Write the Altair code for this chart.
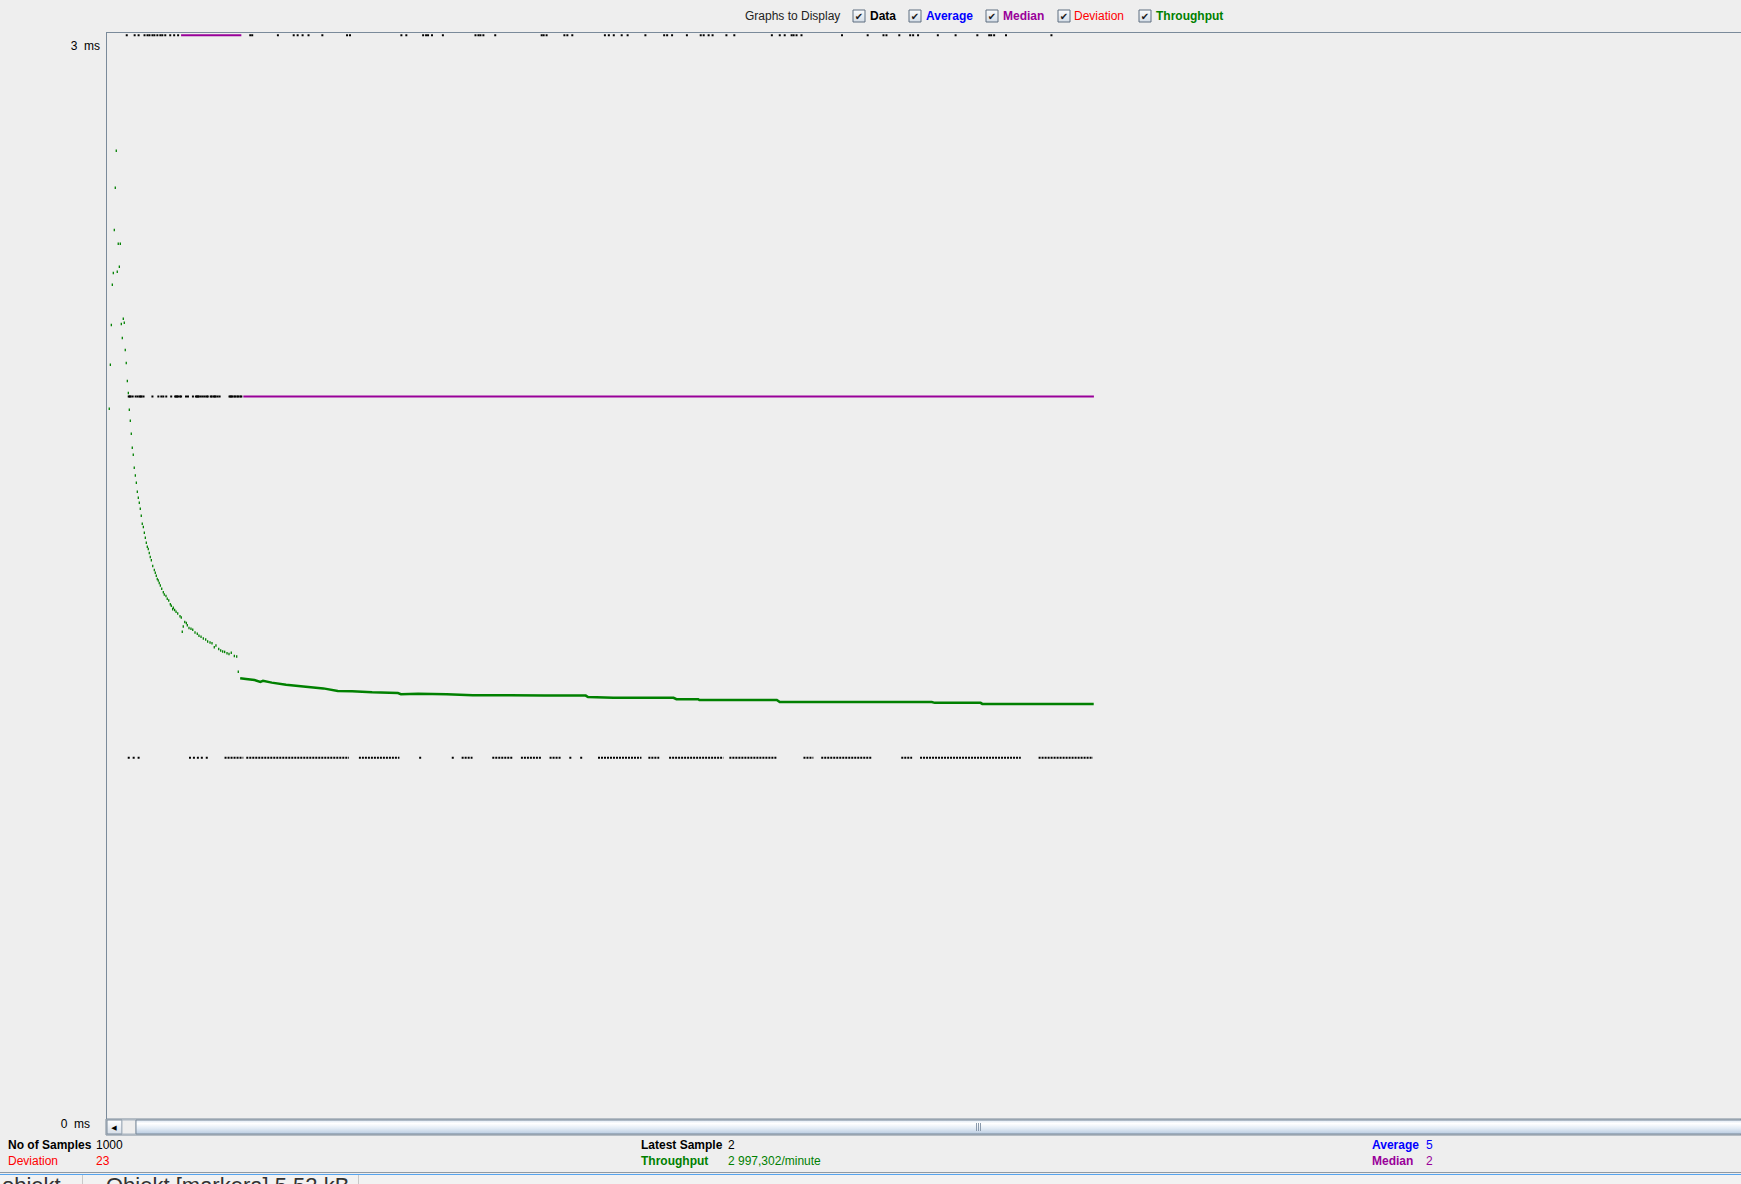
import altair as alt
import pandas as pd

FONT = "Liberation Sans"

# ---------------- data ----------------
# sample number (0..1000) of each black "Data" dot, per level on the ms scale
level3_samples = [21, 29, 33, 39, 42, 44, 47, 49, 52, 55, 57, 60, 65, 69, 73, 146, 148, 174, 190, 194,
                  199, 205, 219, 244, 247, 299, 304, 321, 324, 326, 330, 341, 374, 377, 379, 382, 394,
                  441, 443, 446, 464, 467, 472, 505, 509, 514, 522, 528, 546, 565, 568, 573, 588, 602,
                  605, 610, 614, 628, 636, 674, 682, 687, 694, 696, 699, 704, 745, 771, 787, 790, 803,
                  814, 817, 822, 842, 860, 882, 894, 896, 899, 911, 957]
level2_samples = [23, 24, 25, 27, 30, 32, 34, 35, 36, 38, 47, 53, 56, 58, 61, 66, 70, 71, 72, 73, 75,
                  76, 81, 83, 88, 91, 92, 93, 94, 96, 98, 100, 102, 103, 106, 107, 109, 110, 111, 113,
                  115, 125, 126, 127, 128, 130, 131, 133, 134, 136, 137]
level1_samples = [23, 28, 33, 85, 89, 93, 97, 102, 318, 351, 470, 481]
# dense runs of level-1 dots: first and last sample
level1_run_start = [120, 142, 256, 360, 391, 420, 449, 498, 549, 570, 631, 706, 724, 805, 824, 944]
level1_run_end = [139, 246, 297, 371, 412, 441, 461, 542, 560, 625, 679, 716, 775, 816, 926, 999]

# median line segments
median_start = [76, 139]
median_end = [137, 1000]
median_value = [3, 2]

# throughput (green) - scattered early dots
tp_dot_sample = [3.3, 4.4, 5.4, 6.4, 7.4, 8.4, 9.4, 10.4, 11.4, 12.4, 13.5, 14.5, 15.5, 16.5, 17.5, 18.5,
                 19.5, 20.5, 21.6, 22.6, 23.6, 24.6, 25.6, 26.6, 27.6, 28.6, 29.7, 30.7, 31.7, 32.7, 33.7,
                 34.7, 35.7, 36.7, 37.8, 38.8, 39.8, 40.8, 41.8, 42.8, 43.8, 44.8, 45.9, 47.3, 48.9, 49.9,
                 50.9, 51.9, 52.9, 53.9, 55.0, 56.4, 58.0, 59.0, 60.7, 62.0, 63.5, 65.1, 66.1, 67.5, 68.1,
                 69.5, 70.9, 72.6, 74.9, 76.2, 77.2, 78.2, 79.7, 81.3, 82.3, 84.0, 86.0, 87.8, 90.1, 92.4,
                 94.1, 96.2, 98.5, 100.9, 102.9, 105.3, 107.3, 109.6, 111.3, 114.1, 116.1, 118.1, 120.1,
                 122.5, 124.5, 126.8, 129.9, 132.3, 133.9]
tp_dot_value = [1.966, 2.088, 2.198, 2.309, 2.342, 2.461, 2.578, 2.680, 2.345, 2.423, 2.359, 2.423, 2.201,
                2.162, 2.215, 2.204, 2.129, 2.093, 2.043, 2.010, 1.963, 1.933, 1.897, 1.858, 1.839, 1.803,
                1.781, 1.761, 1.736, 1.720, 1.706, 1.689, 1.670, 1.648, 1.639, 1.623, 1.609, 1.595, 1.584,
                1.578, 1.567, 1.556, 1.547, 1.531, 1.520, 1.512, 1.504, 1.495, 1.491, 1.484, 1.477, 1.468,
                1.458, 1.452, 1.448, 1.440, 1.435, 1.425, 1.421, 1.411, 1.415, 1.409, 1.404, 1.399, 1.392,
                1.388, 1.349, 1.363, 1.376, 1.373, 1.367, 1.359, 1.357, 1.354, 1.347, 1.343, 1.338, 1.335,
                1.330, 1.327, 1.322, 1.319, 1.317, 1.306, 1.311, 1.301, 1.297, 1.294, 1.293, 1.289, 1.287,
                1.291, 1.282, 1.280, 1.238]
# throughput - dense flat part
tp_line_sample = [135.8, 141.7, 150.3, 156.2, 158.9, 167.8, 182.3, 199.7, 220.0, 234.6, 249.1, 269.4,
                  295.5, 298.5, 315.9, 344.9, 371.2, 408.9, 443.7, 485.6, 487.9, 513.5, 574.5, 577.4,
                  599.5, 600.6, 679.0, 682.0, 835.9, 838.9, 885.3, 887.0, 999.8]
tp_line_value = [1.220, 1.218, 1.215, 1.210, 1.213, 1.208, 1.202, 1.197, 1.192, 1.185, 1.184, 1.181,
                 1.179, 1.176, 1.177, 1.176, 1.173, 1.173, 1.172, 1.172, 1.168, 1.166, 1.166, 1.162,
                 1.162, 1.160, 1.160, 1.154, 1.154, 1.152, 1.152, 1.149, 1.149]

y_tick_values = [3, 0]
y_tick_labels = ["3\u00a0\u00a0ms", "0\u00a0\u00a0ms"]

legend_items = ["Data", "Average", "Median", "Deviation", "Throughput"]

# ---------------- styling / layout ----------------
BG = "#eeeeee"
BORDER = "#7a8a9a"
C_DATA = "#000000"
C_AVG = "#0000ff"
C_MED = "#990099"
C_DEV = "#ff0000"
C_TP = "#008000"

W, H = 1635, 1087
L, T = 106, 32

xs = alt.Scale(domain=[0, 1655], nice=False, zero=False)
ys = alt.Scale(domain=[0, 3.009], nice=False, zero=True)


def px(x):
    return x - L


def py(y):
    return y - T


def one():
    return pd.DataFrame({"d": [0]})


def txt(s, x, y, color="#000000", weight="normal", size=12, align="left", font=FONT, baseline="middle"):
    return alt.Chart(pd.DataFrame({"t": [s]})).mark_text(
        align=align, baseline=baseline, font=font, fontSize=size, fontWeight=weight, color=color
    ).encode(text="t:N", x=alt.value(px(x)), y=alt.value(py(y)))


def box(x1, y1, x2, y2, fill, stroke=None):
    kw = {}
    if stroke:
        kw["stroke"] = stroke
        kw["strokeWidth"] = 1
    return alt.Chart(one()).mark_rect(fill=fill, **kw).encode(
        x=alt.value(px(x1)), x2=alt.value(px(x2)), y=alt.value(py(y1)), y2=alt.value(py(y2))
    )


def grad(stops):
    return {"gradient": "linear", "x1": 0, "y1": 0, "x2": 0, "y2": 1,
            "stops": [{"offset": o, "color": c} for o, c in stops]}


layers = []

# plot border (top and left)
layers.append(box(106, 32, 1741, 33, BORDER))
layers.append(box(106, 32, 107, 1120, BORDER))

# ---------------- data marks ----------------
dots = pd.DataFrame({
    "sample": level3_samples + level2_samples + level1_samples,
    "value": [3] * len(level3_samples) + [2] * len(level2_samples) + [1] * len(level1_samples),
})
runs = pd.DataFrame({"start": level1_run_start, "end": level1_run_end, "value": [1] * len(level1_run_start)})
median = pd.DataFrame({"start": median_start, "end": median_end, "value": median_value})
tp_dots = pd.DataFrame({"sample": tp_dot_sample, "value": tp_dot_value})
tp_line = pd.DataFrame({"sample": tp_line_sample, "value": tp_line_value})

layers.append(alt.Chart(dots).mark_square(size=4, color=C_DATA, opacity=1).encode(
    x=alt.X("sample:Q", scale=xs, axis=None), y=alt.Y("value:Q", scale=ys, axis=None)))
layers.append(alt.Chart(runs).mark_rule(color=C_DATA, strokeWidth=2, strokeDash=[2, 1]).encode(
    x=alt.X("start:Q", scale=xs, axis=None), x2="end:Q", y=alt.Y("value:Q", scale=ys, axis=None)))
layers.append(alt.Chart(median).mark_rule(color=C_MED, strokeWidth=2).encode(
    x=alt.X("start:Q", scale=xs, axis=None), x2="end:Q", y=alt.Y("value:Q", scale=ys, axis=None)))
layers.append(alt.Chart(tp_dots).mark_tick(orient="vertical", size=2.5, thickness=1.3, color=C_TP, opacity=1).encode(
    x=alt.X("sample:Q", scale=xs, axis=None), y=alt.Y("value:Q", scale=ys, axis=None)))
layers.append(alt.Chart(tp_line).mark_line(color=C_TP, strokeWidth=2.5).encode(
    x=alt.X("sample:Q", scale=xs, axis=None), y=alt.Y("value:Q", scale=ys, axis=None)))

# y labels
lab3 = pd.DataFrame({"v": [y_tick_values[0]], "t": [y_tick_labels[0]]})
lab0 = pd.DataFrame({"v": [y_tick_values[1]], "t": [y_tick_labels[1]]})
layers.append(alt.Chart(lab3).mark_text(align="right", baseline="middle", font=FONT, fontSize=12, dy=10.5,
                                        color="#000000").encode(
    y=alt.Y("v:Q", scale=ys, axis=None), x=alt.value(-6), text="t:N"))
layers.append(alt.Chart(lab0).mark_text(align="right", baseline="middle", font=FONT, fontSize=12, dy=5,
                                        color="#000000").encode(
    y=alt.Y("v:Q", scale=ys, axis=None), x=alt.value(-16), text="t:N"))

# ---------------- header: Graphs to Display ----------------
HY = 16
layers.append(txt("Graphs to Display", 745, HY, color="#222222"))
cb_x = [853, 909, 986, 1058, 1139]
lab_x = [870, 926, 1003, 1074, 1156]
lab_c = [C_DATA, C_AVG, C_MED, C_DEV, C_TP]
lab_w = ["bold", "bold", "bold", "normal", "bold"]
cb_fill = grad([(0, "#fbfcfd"), (1, "#d3dce6")])
for i, name in enumerate(legend_items):
    layers.append(box(cb_x[i], 10, cb_x[i] + 12, 22, cb_fill, stroke="#5f6f80"))
    layers.append(txt("\u2714", cb_x[i] + 6, 16.5, color="#1a1a1a", size=10, align="center", font="DejaVu Sans"))
    layers.append(txt(name, lab_x[i], HY, color=lab_c[i], weight=lab_w[i]))

# ---------------- scrollbar ----------------
layers.append(box(106, 1119, 1741, 1135, BG, stroke=BORDER))
layers.append(box(107, 1120, 122, 1134, grad([(0, "#ffffff"), (1, "#d6dee8")]), stroke=BORDER))
layers.append(txt("\u25c0", 114, 1127.5, color="#000000", size=7, align="center", font="DejaVu Sans"))
layers.append(box(122, 1120, 136, 1134, BG, stroke="#a8b4c0"))
layers.append(box(136, 1120, 1745, 1134,
                  grad([(0, "#dde7f2"), (0.25, "#ffffff"), (0.6, "#e2ebf5"), (1, "#b8cbe0")]), stroke=BORDER))
for gx in [976, 978, 980]:
    layers.append(box(gx, 1123, gx + 1, 1131, "#8a9aac"))

# ---------------- footer stats ----------------
R1, R2 = 1144.5, 1161
layers.append(txt("No of Samples", 8, R1, weight="bold"))
layers.append(txt("1000", 96, R1))
layers.append(txt("Deviation", 8, R2, color=C_DEV))
layers.append(txt("23", 96, R2, color=C_DEV))
layers.append(txt("Latest Sample", 641, R1, weight="bold"))
layers.append(txt("2", 728, R1))
layers.append(txt("Throughput", 641, R2, color=C_TP, weight="bold"))
layers.append(txt("2 997,302/minute", 728, R2, color=C_TP))
layers.append(txt("Average", 1372, R1, color=C_AVG, weight="bold"))
layers.append(txt("5", 1426, R1, color=C_AVG))
layers.append(txt("Median", 1372, R2, color=C_MED, weight="bold"))
layers.append(txt("2", 1426, R2, color=C_MED))

# bottom separators and cut-off status strip (as in the screenshot)
layers.append(box(0, 1172, 1741, 1173, "#8f99a3"))
layers.append(box(0, 1174, 1741, 1175, "#56a4ee"))
layers.append(box(0, 1175, 1741, 1190, "#f2f2f2"))
layers.append(box(82, 1175, 83, 1190, "#c8c8c8"))
layers.append(box(358, 1175, 359, 1190, "#c8c8c8"))
layers.append(txt("obiekt", 2, 1193, color="#333333", size=22, baseline="alphabetic"))
layers.append(txt("Obiekt [markera]  5,52 kB", 106, 1193, color="#333333", size=22, baseline="alphabetic"))

chart = alt.layer(*layers).properties(
    width=W, height=H,
    padding={"left": L, "top": T, "right": 0, "bottom": 65},
    autosize="none",
).configure(background=BG).configure_view(stroke=None, fill=BG)

chart.save("out.html", embed_options={"renderer": "svg", "actions": False})
